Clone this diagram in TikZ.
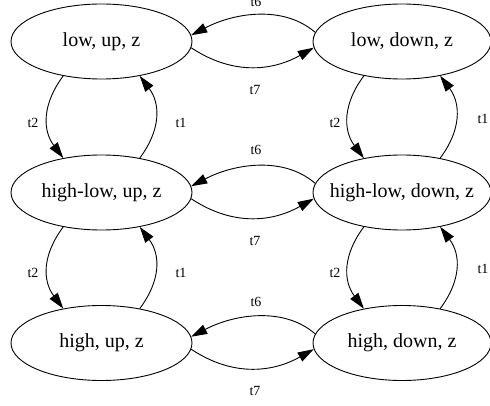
\documentclass[tikz,border=0pt]{standalone}
\usepackage{fontspec}
\setmainfont{Liberation Serif}
\usetikzlibrary{shapes.geometric,arrows.meta}
\begin{document}
\begin{tikzpicture}[x=1pt,y=-1pt,
  state/.style={draw,ellipse,line width=0.9pt,inner sep=0pt,minimum height=75pt,font=\fontsize{20}{24}\selectfont},
  lstate/.style={state,minimum width=181pt},
  rstate/.style={state,minimum width=178pt},
  edge/.style={line width=0.9pt,-{Triangle[length=16pt,width=10pt]}},
  lab/.style={inner sep=0pt,font=\fontsize{14}{16}\selectfont}]
\useasboundingbox (0,0) rectangle (490,406);
% states
\node[lstate] (lu)  at (101.5,41.5) {\makebox[0pt]{low, up, z}};
\node[rstate] (ld)  at (402,41.5)   {\makebox[0pt]{low, down, z}};
\node[lstate] (hlu) at (101.5,192.5) {\makebox[0pt]{high-low, up, z}};
\node[rstate] (hld) at (402,192.5)   {\makebox[0pt]{high-low, down, z}};
\node[lstate] (hu)  at (101.5,343)   {\makebox[0pt]{high, up, z}};
\node[rstate] (hd)  at (402,343)     {\makebox[0pt]{high, down, z}};
% horizontal edges
\foreach \a/\b in {lu/ld,hlu/hld,hu/hd}{
  \draw[edge] (\a.-4) .. controls +(44,29) and +(-39,22) .. (\b.184);
  \draw[edge] (\b.174) .. controls +(-31,-27) and +(44,-23) .. (\a.4);
}
% vertical edges
\foreach \a/\b in {lu/hlu,hlu/hu,ld/hld,hld/hd}{
  \draw[edge] (\a.222) .. controls +(-21,28) and +(-21,-28) .. (\b.138);
  \draw[edge] (\b.42) .. controls +(21,-28) and +(21,28) .. (\a.318);
}
% labels
\node[lab] (tsix1) at (256,2) {t6};
\node[lab] (tsix2) at (256,150) {t6};
\node[lab] (tsix3) at (256,301.5) {t6};
\foreach \y/\n in {41.5/1,192.5/2,343/3}{
  \node[lab] (tseven\n) at (255,\y+48) {t7};
}
\foreach \y/\n in {123/1,273/2}{
  \node[lab] (ltwo\n) at (33,\y) {t2};
  \node[lab] (lone\n) at (181,\y) {t1};
  \node[lab] (rtwo\n) at (335,\y) {t2};
  \node[lab] (rone\n) at (483,\y-4) {t1};
}
\end{tikzpicture}
\end{document}
